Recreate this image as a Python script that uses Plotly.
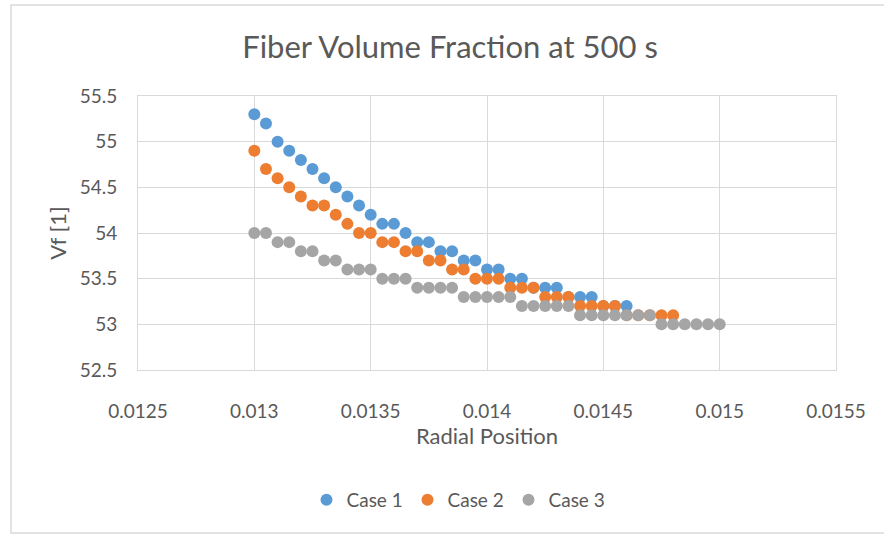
import plotly.graph_objects as go

# Data
radial_positions_case1 = [round(0.013 + 0.00005 * i, 5) for i in range(33)]
radial_positions_case2 = [round(0.013 + 0.00005 * i, 5) for i in range(37)]
radial_positions_case3 = [round(0.013 + 0.00005 * i, 5) for i in range(41)]

case1_vf = [55.3, 55.2, 55.0, 54.9, 54.8, 54.7, 54.6, 54.5, 54.4, 54.3, 54.2,
            54.1, 54.1, 54.0, 53.9, 53.9, 53.8, 53.8, 53.7, 53.7, 53.6, 53.6,
            53.5, 53.5, 53.4, 53.4, 53.4, 53.3, 53.3, 53.3, 53.2, 53.2, 53.2]
case2_vf = [54.9, 54.7, 54.6, 54.5, 54.4, 54.3, 54.3, 54.2, 54.1, 54.0, 54.0,
            53.9, 53.9, 53.8, 53.8, 53.7, 53.7, 53.6, 53.6, 53.5, 53.5, 53.5,
            53.4, 53.4, 53.4, 53.3, 53.3, 53.3, 53.2, 53.2, 53.2, 53.2, 53.1,
            53.1, 53.1, 53.1, 53.1]
case3_vf = [54.0, 54.0, 53.9, 53.9, 53.8, 53.8, 53.7, 53.7, 53.6, 53.6, 53.6,
            53.5, 53.5, 53.5, 53.4, 53.4, 53.4, 53.4, 53.3, 53.3, 53.3, 53.3,
            53.3, 53.2, 53.2, 53.2, 53.2, 53.2, 53.1, 53.1, 53.1, 53.1, 53.1,
            53.1, 53.1, 53.0, 53.0, 53.0, 53.0, 53.0, 53.0]

series_names = ["Case 1", "Case 2", "Case 3"]
series_colors = ["#5B9BD5", "#ED7D31", "#A5A5A5"]

x_tick_vals = [0.0125, 0.013, 0.0135, 0.014, 0.0145, 0.015, 0.0155]
x_tick_text = ["0.0125", "0.013", "0.0135", "0.014", "0.0145", "0.015", "0.0155"]
y_tick_vals = [52.5, 53, 53.5, 54, 54.5, 55, 55.5]
y_tick_text = ["52.5", "53", "53.5", "54", "54.5", "55", "55.5"]

FONT = "Lato"
TEXT = "#595959"
GRID = "#D9D9D9"

fig = go.Figure()
for xs, ys, name, color in zip(
        [radial_positions_case1, radial_positions_case2, radial_positions_case3],
        [case1_vf, case2_vf, case3_vf], series_names, series_colors):
    fig.add_trace(go.Scatter(
        x=xs, y=ys, mode="markers", name=name,
        marker=dict(size=12, color=color, line=dict(width=0)),
    ))

L, R, T, B = 138, 48, 96, 164
W, H = 884, 534
pw = W - L - R
ph = H - T - B

def px_to_paper_x(px):
    return (px - L) / pw

def px_to_paper_y(py):
    return (H - B - py) / ph

fig.update_layout(
    width=W, height=H,
    margin=dict(l=L, r=R, t=T, b=B),
    paper_bgcolor="white", plot_bgcolor="white",
    font=dict(family=FONT, color=TEXT),
    title=dict(text="Fiber Volume Fraction at 500 s", x=450 / W,
               xanchor="center", y=1 - 47 / H, yanchor="middle",
               font=dict(size=31, color=TEXT, family=FONT)),
    showlegend=True,
    legend=dict(orientation="h", x=px_to_paper_x(458), xanchor="center",
                y=px_to_paper_y(500), yanchor="middle",
                font=dict(size=19, color=TEXT, family=FONT),
                itemwidth=30, entrywidth=56, entrywidthmode="pixels",
                tracegroupgap=0, bgcolor="rgba(0,0,0,0)"),
    xaxis=dict(range=[0.0125, 0.0155], tickvals=x_tick_vals, ticktext=x_tick_text,
               showgrid=True, gridcolor=GRID, gridwidth=1,
               showline=True, linecolor=GRID, linewidth=1, mirror=True,
               zeroline=False, ticks="", ticklabelstandoff=24,
               tickfont=dict(size=19, color=TEXT, family=FONT),
               title=dict(text="Radial Position", font=dict(size=22, color=TEXT, family=FONT),
                          standoff=4)),
    yaxis=dict(range=[52.5, 55.5], tickvals=y_tick_vals, ticktext=y_tick_text,
               showgrid=True, gridcolor=GRID, gridwidth=1,
               showline=True, linecolor=GRID, linewidth=1, mirror=True,
               zeroline=False, ticks="", ticklabelstandoff=16,
               tickfont=dict(size=19, color=TEXT, family=FONT),
               title=dict(text="Vf [1]", font=dict(size=22, color=TEXT, family=FONT),
                          standoff=6)),
    shapes=[dict(type="rect", xref="paper", yref="paper",
                 x0=px_to_paper_x(11), x1=px_to_paper_x(900),
                 y0=px_to_paper_y(533), y1=px_to_paper_y(5),
                 line=dict(color="#D9D9D9", width=1.5), fillcolor="rgba(0,0,0,0)",
                 layer="below")],
)

fig.write_html("out.html")
